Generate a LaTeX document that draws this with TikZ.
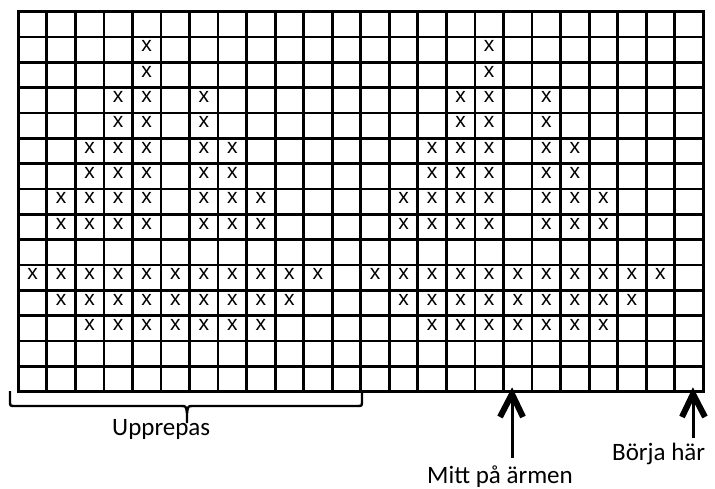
\documentclass[tikz,border=0pt]{standalone}
\usepackage{fontspec}
\newfontfamily\lblfont{Carlito}
\newfontfamily\xfont{Liberation Sans}
\begin{document}
\begin{tikzpicture}[x=1pt,y=-1pt,
  gridline/.style={line width=2.8pt,line cap=rect},
  xmark/.style={inner sep=0pt,font=\xfont\fontsize{21}{21}\selectfont},
  lbl/.style={inner sep=0pt,anchor=base west,font=\lblfont\fontsize{25}{25}\selectfont},
  shaft/.style={line width=3pt},
  chevron/.style={line width=6pt,line join=miter,miter limit=10},
  bracepath/.style={line width=2.4pt,line join=round}]
\useasboundingbox[fill=white] (0,0) rectangle (715,489);
\def\gx{18.3}\def\gy{11.7}\def\cw{28.5417}\def\rh{25.327}
% grid
\foreach \i in {0,...,24}
  \draw[gridline] ({\gx+\i*\cw},\gy) -- ({\gx+\i*\cw},{\gy+15*\rh});
\foreach \j in {0,...,15}
  \draw[gridline] (\gx,{\gy+\j*\rh}) -- ({\gx+24*\cw},{\gy+\j*\rh});
% x marks (left repeat and right half)
\foreach \r/\cs in {1/{4},2/{4},3/{3,4,6},4/{3,4,6},5/{2,3,4,6,7},6/{2,3,4,6,7},
  7/{1,2,3,4,6,7,8},8/{1,2,3,4,6,7,8},10/{0,1,2,3,4,5,6,7,8,9,10},
  11/{1,2,3,4,5,6,7,8,9},12/{2,3,4,5,6,7,8}}{
  \foreach \c in \cs {
    \node[xmark] (xl-\r-\c) at ({\gx+(\c+0.5)*\cw},{\gy+(\r+0.5)*\rh-3.5}) {x};
    \node[xmark] (xr-\r-\c) at ({\gx+(\c+12.5)*\cw},{\gy+(\r+0.5)*\rh-3.5}) {x};
  }
}
% brace
\draw[bracepath] (10,391) -- (10,401) .. controls (10,406) .. (15,406) -- (181,406)
  .. controls (186,406) .. (187,413) -- (187,423);
\draw[bracepath] (187,413) .. controls (188,406) .. (193,406) -- (357,406)
  .. controls (362,406) .. (362,401) -- (362,391);
\node[lbl] (upp) at (112,435) {Upprepas};
% arrow: middle of sleeve
\coordinate (mtip) at (512,394);
\coordinate (mend) at (512,458);
\node[lbl] (mitt) at (427,483) {Mitt på ärmen};
\draw[shaft] (mend) -- (mtip);
\draw[chevron] (500,417) -- (mtip) -- (523,417);
% arrow: start here
\coordinate (btip) at (693,394);
\coordinate (bend) at (693,438);
\node[lbl] (borja) at (612,460) {Börja här};
\draw[shaft] (bend) -- (btip);
\draw[chevron] (682,417) -- (btip) -- (705,417);
\end{tikzpicture}
\end{document}
